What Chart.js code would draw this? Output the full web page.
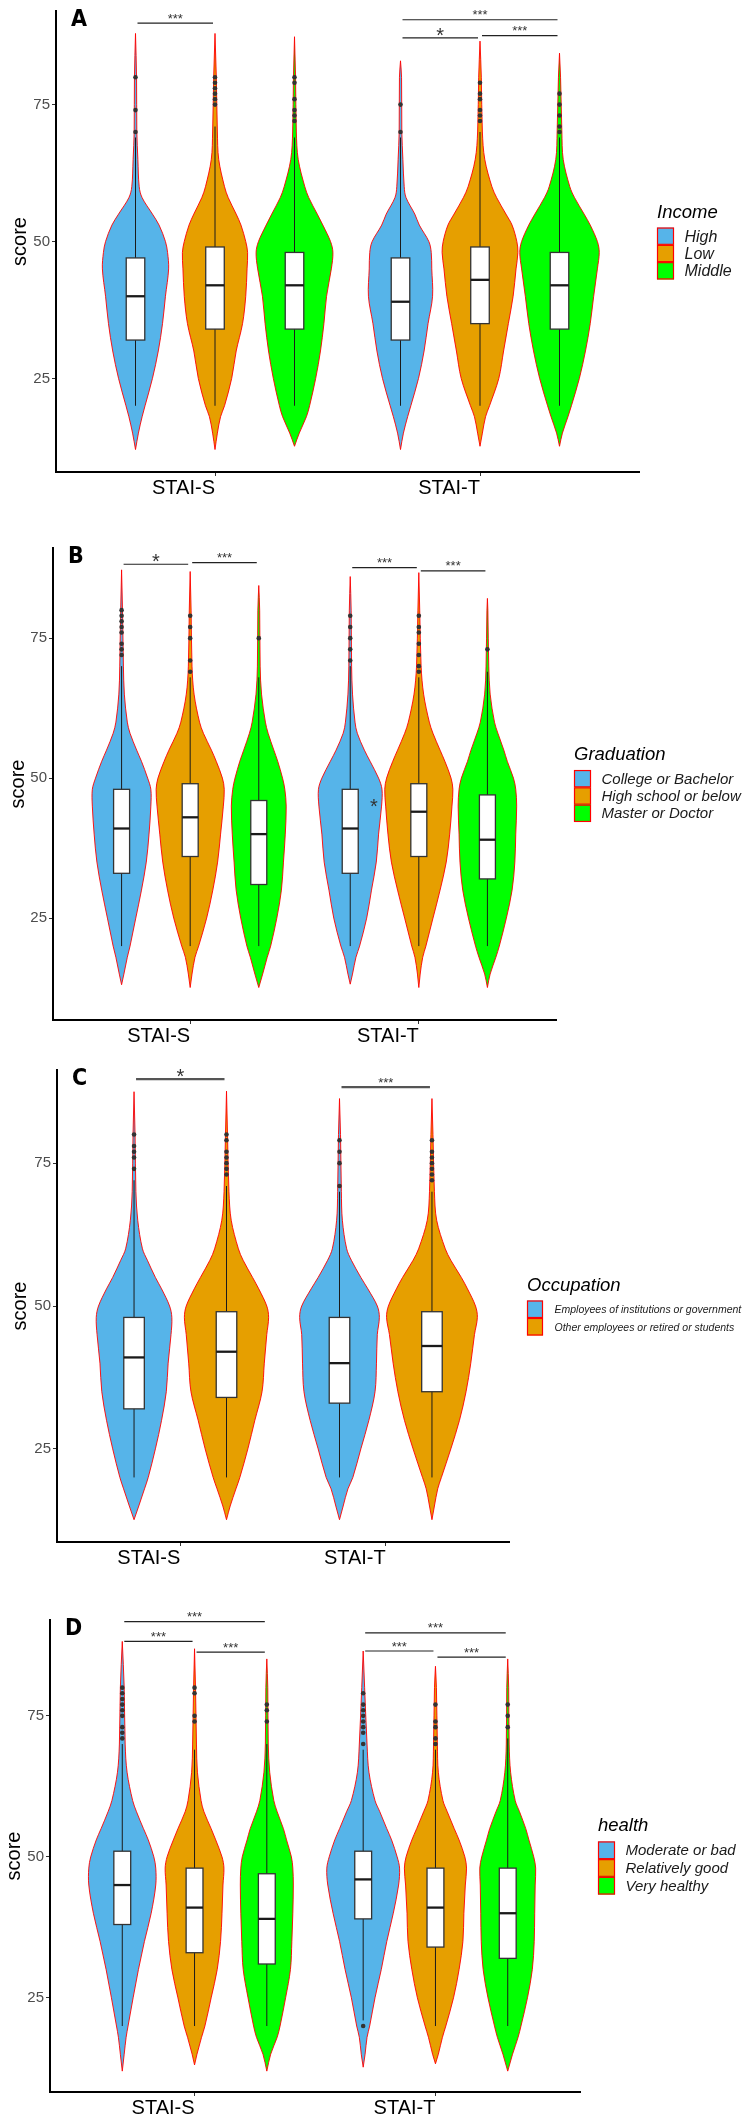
<!DOCTYPE html>
<html>
<head>
<meta charset="utf-8">
<script src="https://cdn.jsdelivr.net/npm/chart.js@4.4.1/dist/chart.umd.min.js"></script>
<style>
  html, body { margin: 0; padding: 0; background: #fff; }
  #wrap { position: relative; width: 742px; height: 2115px; overflow: hidden; }
  #wrap canvas { position: absolute; left: 0; }
</style>
</head>
<body>
<div id="wrap">
  <canvas id="panelA"></canvas>
  <canvas id="panelB"></canvas>
  <canvas id="panelC"></canvas>
  <canvas id="panelD"></canvas>
</div>
<script>
// score levels at which violin half widths are read (category units)
const scoreGrid = [15, 18, 20, 25, 30, 35, 40, 45, 48, 50, 53, 55, 58, 60, 65, 70, 80];
const scaleNames = ['STAI-S', 'STAI-T'];

// order of every list below: STAI-S groups, then STAI-T groups

// A: income
const incomeGroups = ['High', 'Low', 'Middle'];
const incomeEnds = [[12, 88], [12, 88], [12.6, 87.4], [12, 83], [12.6, 86.6], [12.6, 84.4]];
const incomeWidths = [
  [.011, .025, .036, .064, .086, .102, .113, .125, .121, .113, .089, .064, .025, .014, .009, .005, .004],
  [.009, .021, .036, .063, .080, .104, .116, .121, .123, .116, .098, .080, .050, .036, .014, .009, .005],
  [.018, .045, .057, .080, .098, .111, .121, .139, .145, .136, .107, .086, .054, .039, .014, .007, .004],
  [.011, .027, .039, .068, .089, .104, .121, .118, .116, .107, .071, .054, .021, .014, .009, .005, .004],
  [.009, .021, .036, .071, .089, .107, .125, .136, .143, .139, .121, .098, .063, .045, .018, .009, .005],
  [.011, .032, .045, .075, .098, .116, .129, .143, .150, .143, .116, .093, .057, .039, .014, .009, .004]
];
// [whisker low, q1, median, q3, whisker high]
const incomeBoxes = [[20, 32, 40, 47, 69], [20, 34, 42, 49, 71], [20, 34, 42, 48, 69],
                     [20, 32, 39, 47, 69], [20, 35, 43, 49, 70], [20, 34, 42, 48, 69]];
const incomeOutliers = [[70, 74, 80], [75, 76, 77, 78, 79, 80], [72, 73, 74, 76, 79, 80],
                        [70, 75], [72, 73, 74, 76, 77, 79], [70, 71, 73, 75, 77]];
const incomeSig = [
  { scale: 0, from: 0, to: 1, y: 89.9, label: '***' },
  { scale: 1, from: 0, to: 2, y: 90.5, label: '***' },
  { scale: 1, from: 0, to: 1, y: 87.2, label: '*' },
  { scale: 1, from: 1, to: 2, y: 87.6, label: '***' }
];

// B: graduation
const gradGroups = ['College or Bachelor', 'High school or below', 'Master or Doctor'];
const gradEnds = [[13.1, 87.2], [12.6, 86.9], [12.6, 84.4], [13.2, 86], [12.6, 86.7], [12.6, 82.1]];
const gradWidths = [
  [.010, .025, .037, .062, .087, .108, .120, .128, .128, .114, .087, .066, .037, .025, .012, .008, .004],
  [.008, .021, .037, .072, .099, .120, .133, .145, .149, .141, .114, .093, .058, .041, .017, .008, .004],
  [.017, .037, .052, .079, .099, .108, .116, .120, .114, .104, .083, .066, .041, .029, .012, .006, .004],
  [.010, .025, .041, .072, .093, .114, .124, .137, .139, .124, .087, .062, .031, .021, .010, .006, .004],
  [.006, .017, .031, .062, .093, .120, .135, .145, .149, .141, .114, .093, .062, .046, .021, .010, .004],
  [.012, .037, .052, .083, .108, .120, .124, .128, .124, .114, .087, .072, .046, .031, .012, .006, .002]
];
const gradBoxes = [[20, 33, 41, 48, 70], [20, 36, 43, 49, 68], [20, 31, 40, 46, 68],
                   [20, 33, 41, 48, 70], [20, 36, 44, 49, 68], [20, 32, 39, 47, 69]];
const gradOutliers = [[72, 73, 74, 76, 77, 78, 79, 80], [69, 71, 75, 77, 79], [75],
                      [71, 73, 75, 77, 79], [69, 70, 72, 74, 76, 77, 79], [73]];
const gradSig = [
  { scale: 0, from: 0, to: 1, y: 88.2, label: '*' },
  { scale: 0, from: 1, to: 2, y: 88.5, label: '***' },
  { scale: 1, from: 0, to: 1, y: 87.6, label: '***' },
  { scale: 1, from: 1, to: 2, y: 87.0, label: '***' }
];
const gradNotes = [{ scale: 1, dx: -0.197, y: 45.7, label: '*' }];

// C: occupation
const occGroups = ['Employees of institutions or government', 'Other employees or retired or students'];
const occEnds = [[12.6, 87.5], [12.6, 87.6], [12.6, 86.3], [12.6, 86.3]];
const occWidths = [
  [.023, .051, .069, .104, .134, .157, .166, .180, .184, .173, .134, .104, .065, .041, .018, .009, .005],
  [.018, .046, .065, .104, .138, .173, .184, .196, .205, .196, .157, .127, .081, .058, .023, .012, .005],
  [.018, .041, .065, .104, .143, .173, .180, .184, .194, .184, .138, .104, .058, .035, .014, .009, .005],
  [.012, .028, .046, .092, .134, .166, .189, .207, .221, .212, .173, .143, .092, .065, .023, .012, .005]
];
const occBoxes = [[20, 32, 41, 48, 72], [20, 34, 42, 49, 71], [20, 33, 40, 48, 70], [20, 35, 43, 49, 70]];
const occOutliers = [[74, 76, 77, 78, 80], [73, 74, 75, 76, 77, 79, 80], [71, 75, 77, 79], [72, 73, 74, 75, 76, 77, 79]];
const occSig = [
  { scale: 0, from: 0, to: 1, y: 89.7, label: '*' },
  { scale: 1, from: 0, to: 1, y: 88.3, label: '***' }
];

// D: health
const healthGroups = ['Moderate or bad', 'Relatively good', 'Very healthy'];
const healthEnds = [[12, 88.2], [13.1, 86.9], [12, 85.1], [12.7, 86.5], [13.3, 83.8], [12, 85.1]];
const healthWidths = [
  [.008, .016, .024, .045, .067, .092, .120, .139, .139, .131, .108, .088, .059, .043, .020, .012, .008],
  [.010, .029, .043, .069, .094, .108, .114, .118, .122, .114, .088, .069, .039, .027, .012, .008, .004],
  [.016, .043, .055, .078, .098, .104, .108, .110, .108, .102, .082, .069, .043, .029, .012, .006, .004],
  [.008, .016, .027, .049, .075, .098, .125, .147, .151, .141, .118, .098, .069, .049, .024, .016, .006],
  [.012, .029, .043, .075, .098, .114, .118, .124, .129, .122, .098, .078, .049, .031, .012, .008, .004],
  [.020, .043, .055, .082, .102, .110, .112, .114, .116, .108, .088, .075, .049, .031, .012, .006, .004]
];
const healthBoxes = [[20, 38, 45, 51, 70], [20, 33, 41, 48, 69], [20, 31, 39, 47, 70],
                     [21, 39, 46, 51, 69], [20, 34, 41, 48, 69], [20, 32, 40, 48, 71]];
const healthOutliers = [[71, 72, 73, 75, 76, 77, 78, 79, 80], [74, 75, 79, 80], [74, 76, 77],
                        [20, 70, 72, 73, 74, 75, 76, 77, 79], [70, 71, 73, 74, 77], [73, 75, 77]];
const healthSig = [
  { scale: 0, from: 0, to: 2, y: 91.7, label: '***' },
  { scale: 0, from: 0, to: 1, y: 88.2, label: '***' },
  { scale: 0, from: 1, to: 2, y: 86.3, label: '***' },
  { scale: 1, from: 0, to: 2, y: 89.7, label: '***' },
  { scale: 1, from: 0, to: 1, y: 86.5, label: '***' },
  { scale: 1, from: 1, to: 2, y: 85.4, label: '***' }
];

const FONT = '"Liberation Sans", Arial, sans-serif';
const fill3 = ['#56B4E9', '#E69F00', '#00FF00'];

const panels = [
  { id: 'panelA', letter: 'A', top: 0, height: 500, area: { left: 56, right: 639, top: 4, bottom: 472 },
    yMin: 7.9, yMax: 92.1, titleX: 20, xAxisH: 28, legendTitle: 'Income', groups: incomeGroups,
    ends: incomeEnds, widths: incomeWidths, boxes: incomeBoxes, outliers: incomeOutliers, sig: incomeSig, notes: [],
    fills: fill3, boxW: 0.07, legendFont: 16, keyH: 17.3, keyW: 17, sigColor: '#222', sigWidth: 1.2 },
  { id: 'panelB', letter: 'B', top: 500, height: 550, area: { left: 53, right: 556, top: 48, bottom: 520 },
    yMin: 6.8, yMax: 91.1, titleX: 18, xAxisH: 28, legendTitle: 'Graduation', groups: gradGroups,
    ends: gradEnds, widths: gradWidths, boxes: gradBoxes, outliers: gradOutliers, sig: gradSig, notes: gradNotes,
    fills: fill3, boxW: 0.07, legendFont: 15, keyH: 17.3, keyW: 17, sigColor: '#222', sigWidth: 1.2 },
  { id: 'panelC', letter: 'C', top: 1050, height: 520, area: { left: 57, right: 509, top: 20, bottom: 492 },
    yMin: 8.7, yMax: 91.3, titleX: 20, xAxisH: 28, legendTitle: 'Occupation', groups: occGroups,
    ends: occEnds, widths: occWidths, boxes: occBoxes, outliers: occOutliers, sig: occSig, notes: [],
    fills: fill3.slice(0, 2), boxW: 0.1, legendFont: 10.5, keyH: 17.5, keyW: 16, sigColor: '#555', sigWidth: 2.4 },
  { id: 'panelD', letter: 'D', top: 1570, height: 545, area: { left: 50, right: 580, top: 50, bottom: 522 },
    yMin: 8.3, yMax: 92, titleX: 14, xAxisH: 23, legendTitle: 'health', groups: healthGroups,
    ends: healthEnds, widths: healthWidths, boxes: healthBoxes, outliers: healthOutliers, sig: healthSig, notes: [],
    fills: fill3, boxW: 0.07, legendFont: 15, keyH: 17.7, keyW: 17, sigColor: '#222', sigWidth: 1.2 }
];

// dodge offset of group gi out of n (ggplot dodge width 0.9)
function dodge(gi, n) { return (gi - (n - 1) / 2) * 0.9 / n; }

// smooth outline through pixel points, y monotonic (hermite in y)
function smoothSide(ctx, pts, first) {
  const m = pts.map((p, i) => {
    const a = pts[Math.max(i - 1, 0)], b = pts[Math.min(i + 1, pts.length - 1)];
    return b[1] === a[1] ? 0 : (b[0] - a[0]) / (b[1] - a[1]);
  });
  if (first) ctx.moveTo(pts[0][0], pts[0][1]); else ctx.lineTo(pts[0][0], pts[0][1]);
  for (let i = 0; i < pts.length - 1; i++) {
    const h = pts[i + 1][1] - pts[i][1];
    ctx.bezierCurveTo(pts[i][0] + m[i] * h / 3, pts[i][1] + h / 3,
                      pts[i + 1][0] - m[i + 1] * h / 3, pts[i + 1][1] - h / 3,
                      pts[i + 1][0], pts[i + 1][1]);
  }
}

const violinPlugin = {
  id: 'violins',
  beforeDatasetsDraw(chart, args, opts) {
    const p = opts.panel;
    const xs = chart.scales.x, ys = chart.scales.y, ctx = chart.ctx;
    const n = p.groups.length;
    ctx.save();
    scaleNames.forEach((s, si) => p.groups.forEach((g, gi) => {
      const k = si * n + gi;
      const cx = si + 1 + dodge(gi, n);
      const lo = p.ends[k][0], hi = p.ends[k][1];
      const pts = [[lo, 0]];
      scoreGrid.forEach((sc, j) => { if (sc > lo && sc < hi) pts.push([sc, p.widths[k][j]]); });
      pts.push([hi, 0]);
      const right = pts.map(q => [xs.getPixelForValue(cx + q[1]), ys.getPixelForValue(q[0])]);
      const left = pts.map(q => [xs.getPixelForValue(cx - q[1]), ys.getPixelForValue(q[0])]).reverse();
      ctx.beginPath();
      smoothSide(ctx, right, true);
      smoothSide(ctx, left, false);
      ctx.closePath();
      ctx.fillStyle = p.fills[gi];
      ctx.fill();
      ctx.strokeStyle = '#FF0000';
      ctx.lineWidth = 0.9;
      ctx.stroke();

      // box plot
      const b = p.boxes[k];
      const px = xs.getPixelForValue(cx);
      ctx.beginPath();
      ctx.moveTo(px, ys.getPixelForValue(b[0]));
      ctx.lineTo(px, ys.getPixelForValue(b[4]));
      ctx.strokeStyle = '#1a1a1a';
      ctx.lineWidth = 1;
      ctx.stroke();
      const xl = xs.getPixelForValue(cx - p.boxW / 2), xr = xs.getPixelForValue(cx + p.boxW / 2);
      const yt = ys.getPixelForValue(b[3]), yb = ys.getPixelForValue(b[1]);
      ctx.fillStyle = '#ffffff';
      ctx.fillRect(xl, yt, xr - xl, yb - yt);
      ctx.strokeStyle = '#333333';
      ctx.lineWidth = 1.3;
      ctx.strokeRect(xl, yt, xr - xl, yb - yt);
      const ym = ys.getPixelForValue(b[2]);
      ctx.beginPath();
      ctx.moveTo(xl, ym);
      ctx.lineTo(xr, ym);
      ctx.strokeStyle = '#1a1a1a';
      ctx.lineWidth = 2.3;
      ctx.stroke();
    }));
    ctx.restore();
  },
  afterDraw(chart, args, opts) {
    const p = opts.panel;
    const xs = chart.scales.x, ys = chart.scales.y, ctx = chart.ctx, a = chart.chartArea;
    const n = p.groups.length;
    ctx.save();
    // significance brackets
    p.sig.forEach(s => {
      const x1 = xs.getPixelForValue(s.scale + 1 + dodge(s.from, n)) + 2;
      const x2 = xs.getPixelForValue(s.scale + 1 + dodge(s.to, n)) - 2;
      const yy = ys.getPixelForValue(s.y);
      ctx.beginPath();
      ctx.moveTo(x1, yy);
      ctx.lineTo(x2, yy);
      ctx.strokeStyle = p.sigColor;
      ctx.lineWidth = p.sigWidth;
      ctx.stroke();
      const big = s.label === '*';
      ctx.font = (big ? 20 : 13) + 'px ' + FONT;
      ctx.fillStyle = '#333';
      ctx.textAlign = 'center';
      ctx.textBaseline = 'alphabetic';
      ctx.fillText(s.label, (x1 + x2) / 2, yy + (big ? 4 : -0.5));
    });
    p.notes.forEach(t => {
      ctx.font = '20px ' + FONT;
      ctx.fillStyle = '#333';
      ctx.textAlign = 'center';
      ctx.textBaseline = 'alphabetic';
      ctx.fillText(t.label, xs.getPixelForValue(t.scale + 1 + t.dx), ys.getPixelForValue(t.y) + 11);
    });
    // panel letter
    ctx.font = 'bold 23px "Liberation Sans Narrow", "DejaVu Sans Condensed", ' + FONT;
    ctx.fillStyle = '#000';
    ctx.textAlign = 'left';
    ctx.textBaseline = 'top';
    ctx.fillText(p.letter, a.left + 15, a.top - 2);
    // legend
    const mid = (a.top + a.bottom) / 2;
    const total = 24 + n * p.keyH;
    const base = mid - total / 2 + 14;
    const lx = a.right + 18;
    ctx.font = 'italic 18.5px ' + FONT;
    ctx.fillStyle = '#000';
    ctx.textBaseline = 'alphabetic';
    ctx.fillText(p.legendTitle, lx, base);
    p.groups.forEach((g, gi) => {
      const ky = base + 10 + gi * p.keyH;
      ctx.fillStyle = p.fills[gi];
      ctx.fillRect(lx, ky, p.keyW, p.keyH);
      ctx.strokeStyle = '#FF0000';
      ctx.lineWidth = 1.2;
      ctx.strokeRect(lx + 0.5, ky + 0.5, p.keyW - 1, p.keyH - 1);
      ctx.font = 'italic ' + p.legendFont + 'px ' + FONT;
      ctx.fillStyle = '#1a1a1a';
      ctx.textBaseline = 'middle';
      ctx.fillText(g, lx + 27.5, ky + p.keyH / 2 + 1);
    });
    ctx.restore();
  }
};

panels.forEach(p => {
  const cv = document.getElementById(p.id);
  cv.width = 742;
  cv.height = p.height;
  cv.style.top = p.top + 'px';
  const n = p.groups.length;
  const points = [];
  scaleNames.forEach((s, si) => p.groups.forEach((g, gi) => {
    p.outliers[si * n + gi].forEach(v => points.push({ x: si + 1 + dodge(gi, n), y: v }));
  }));
  const axisGrid = { display: true, drawOnChartArea: false, drawTicks: true, tickLength: 4, color: '#333', lineWidth: 1 };
  new Chart(cv, {
    type: 'scatter',
    data: {
      datasets: [{
        data: points,
        pointRadius: 2.3,
        pointBackgroundColor: '#333333',
        pointBorderWidth: 0,
        clip: false
      }]
    },
    options: {
      responsive: false,
      animation: false,
      events: [],
      layout: {
        padding: { top: p.area.top, right: 742 - p.area.right, bottom: p.height - p.area.bottom - p.xAxisH, left: 0 }
      },
      plugins: {
        legend: { display: false },
        tooltip: { enabled: false },
        violins: { panel: p }
      },
      scales: {
        x: {
          type: 'linear', min: 0.4, max: 2.6,
          afterBuildTicks: ax => { ax.ticks = scaleNames.map((s, i) => ({ value: i + 1 })); },
          afterFit: ax => { ax.height = p.xAxisH; },
          ticks: { callback: v => scaleNames[v - 1], align: 'end', padding: 0, color: '#000',
                   font: { family: FONT, size: 20 } },
          grid: axisGrid,
          border: { display: true, color: '#000', width: 2 }
        },
        y: {
          min: p.yMin, max: p.yMax,
          afterBuildTicks: ax => { ax.ticks = [25, 50, 75].map(v => ({ value: v })); },
          afterFit: ax => { ax.width = p.area.left; },
          ticks: { padding: 2, color: '#4d4d4d', font: { family: FONT, size: 15 } },
          grid: axisGrid,
          border: { display: true, color: '#000', width: 2 },
          title: { display: true, text: 'score', color: '#000', font: { family: FONT, size: 20 },
                   padding: { top: p.titleX - 12, bottom: 0 } }
        }
      }
    },
    plugins: [violinPlugin]
  });
});
</script>
</body>
</html>
